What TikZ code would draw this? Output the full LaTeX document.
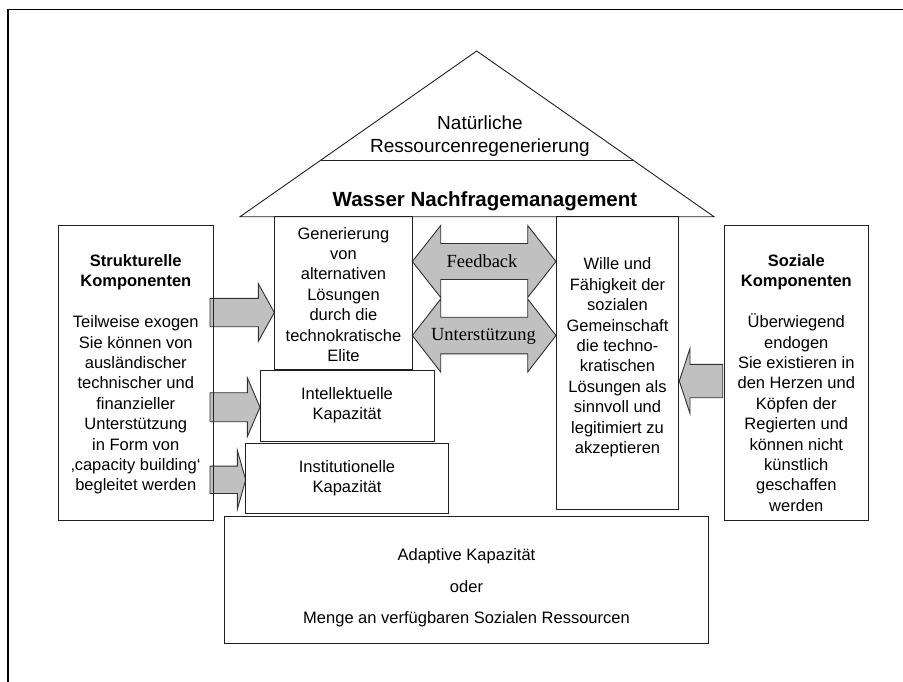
\documentclass[tikz,border=0pt]{standalone}
\usepackage{fontspec}
\setmainfont{Liberation Sans}
\newfontfamily\seriffam{Liberation Serif}
\definecolor{boxc}{HTML}{202020}
\definecolor{arrc}{HTML}{303030}
\definecolor{arrfill}{HTML}{C0C0C0}
\newcommand\blockarrow[6]{% tail x, tip x, y, body half, head half, head base x
  \draw[blk] (#1,#3-#4) -- (#6,#3-#4) -- (#6,#3-#5) -- (#2,#3) -- (#6,#3+#5) -- (#6,#3+#4) -- (#1,#3+#4) -- cycle;}
\newcommand\dblarrow[7]{% left tip x, right tip x, y, body half, head half, left base x, right base x
  \draw[blk] (#1,#3) -- (#6,#3-#5) -- (#6,#3-#4) -- (#7,#3-#4) -- (#7,#3-#5) -- (#2,#3) -- (#7,#3+#5) -- (#7,#3+#4) -- (#6,#3+#4) -- (#6,#3+#5) -- cycle;}
\begin{document}
\begin{tikzpicture}[x=1pt,y=-1pt,
  box/.style={draw=boxc, line width=0.9pt, inner sep=0pt, rectangle},
  txt/.style={font=\fontsize{16.5}{20.4}\selectfont, align=center, inner sep=0pt},
  blk/.style={draw=arrc, fill=arrfill, line width=0.9pt, line join=miter}]
\useasboundingbox (0,0) rectangle (903,681);
% outer frame
\begin{scope}
  \clip (0,0) rectangle (903,681);
  \draw[line width=1.3pt, black] (8,9.3) rectangle (930,700);
\end{scope}
% roof
\coordinate (roofL) at (240,216.7);
\coordinate (roofT) at (476.7,51);
\coordinate (roofR) at (714,216.7);
\draw[draw=boxc, line width=0.9pt] (roofL) -- (roofT) -- (roofR) -- cycle;
\draw[draw=boxc, line width=0.9pt] (321,160) -- (632.8,160);
\node[txt, font=\fontsize{19}{23}\selectfont] (natur) at (480,136) {Natürliche\\Ressourcenregenerierung};
\node[inner sep=0pt, anchor=base, font=\fontsize{20.5}{24}\selectfont\bfseries] (wasser) at (485,206.7) {Wasser Nachfragemanagement};
% block arrows
\blockarrow{210}{274.3}{312.5}{14.2}{28.9}{258.3}
\blockarrow{210}{260}{407.2}{14.5}{29.5}{247.3}
\blockarrow{210}{245.7}{479.8}{13.7}{29.6}{237.3}
\blockarrow{722.7}{679.3}{381}{16.7}{32.5}{690}
\dblarrow{412.3}{556}{261.5}{18}{36}{440.7}{527.7}
\dblarrow{412.3}{556}{335.5}{18.3}{36.5}{440.7}{527.7}
% boxes
\node[box, minimum width=155pt, minimum height=295pt] (struk) at (135.8,372.5) {};
\node[box, minimum width=137.8pt, minimum height=152.8pt] (gen) at (343.4,293.1) {};
\node[box, minimum width=174pt, minimum height=71pt] (intel) at (347,405.5) {};
\node[box, minimum width=202.6pt, minimum height=70.2pt] (inst) at (347,478.4) {};
\node[box, minimum width=483.5pt, minimum height=126.6pt] (adapt) at (466.25,580) {};
\node[box, minimum width=122.8pt, minimum height=292.3pt] (wille) at (617.4,362.85) {};
\node[box, minimum width=144pt, minimum height=295pt] (sozial) at (796.3,372.5) {};
% texts
\node[txt] (strukT) at (135.8,374.4) {\textbf{Strukturelle}\\\textbf{Komponenten}\\[20.4pt]Teilweise exogen\\Sie können von\\ausländischer\\technischer und\\finanzieller\\Unterstützung\\in Form von\\‚capacity building‘\\begleitet werden};
\node[txt] (genT) at (343.5,294.4) {Generierung\\von\\alternativen\\Lösungen\\durch die\\technokratische\\Elite};
\node[txt] (intelT) at (347,405.5) {Intellektuelle\\Kapazität};
\node[txt] (instT) at (347,478.5) {Institutionelle\\Kapazität};
\node[txt] (willeT) at (617.5,357.5) {Wille und\\Fähigkeit der\\sozialen\\Gemeinschaft\\die techno-\\kratischen\\Lösungen als\\sinnvoll und\\legitimiert zu\\akzeptieren};
\node[txt] (sozialT) at (796.3,383) {\textbf{Soziale}\\\textbf{Komponenten}\\[20.4pt]Überwiegend\\endogen\\Sie existieren in\\den Herzen und\\Köpfen der\\Regierten und\\können nicht\\künstlich\\geschaffen\\werden};
\node[txt, font=\fontsize{16.5}{31.5}\selectfont] (adaptT) at (466.5,588) {Adaptive Kapazität\\oder\\Menge an verfügbaren Sozialen Ressourcen};
\node[inner sep=0pt, anchor=base, font=\fontsize{18.5}{22}\seriffam] (feed) at (482,267) {Feedback};
\node[inner sep=0pt, anchor=base, font=\fontsize{18.5}{22}\seriffam] (unter) at (483.5,340.3) {Unterstützung};
\end{tikzpicture}
\end{document}
